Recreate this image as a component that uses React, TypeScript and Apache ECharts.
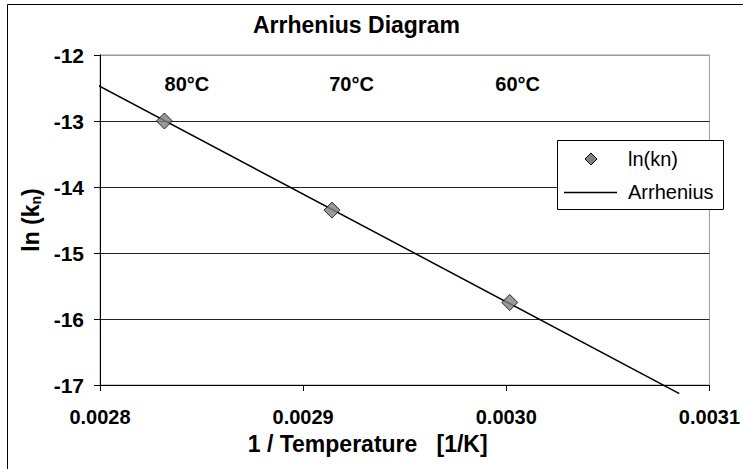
import React, { useEffect, useRef } from "react";
import * as echarts from "echarts";

// Measured rate constants: reciprocal temperature [1/K] and ln(k_n)
const invTemperature = [0.0028317, 0.0029142, 0.0030017];
const lnK = [-13.0, -14.35, -15.75];

// Arrhenius fit line end points
const fitInvT = [0.0027966, 0.0030852];
const fitLnK = [-12.42, -17.13];

// Temperature annotations above the points
const tempLabels = ["80°C", "70°C", "60°C"];
const tempLabelX = [0.0028428, 0.0029238, 0.0030056];
const tempLabelY = [-12.44, -12.44, -12.44];

// Legend entries
const legendNames = ["ln(kn)", "Arrhenius"];

// Axis ranges
const xRange = [0.0028, 0.0031];
const xStep = 0.0001;
const yRange = [-17, -12];
const yStep = 1;

const FONT = 'Arial, "Liberation Sans", sans-serif';

function legendGraphic() {
  const left = 557.5;
  const top = 140.5;
  const w = 166;
  const h = 69;
  const row1 = 159;
  const row2 = 192;
  const dx = 591;
  const r = 6;
  return [
    {
      type: "rect",
      shape: { x: left, y: top, width: w, height: h },
      style: { fill: "#fff", stroke: "#000", lineWidth: 1 },
      z: 50,
    },
    {
      type: "polygon",
      shape: { points: [[dx, row1 - r], [dx + r, row1], [dx, row1 + r], [dx - r, row1]] },
      style: { fill: "#808080", stroke: "#000", lineWidth: 1 },
      z: 51,
    },
    {
      type: "line",
      shape: { x1: 564, y1: row2 + 0.5, x2: 617, y2: row2 + 0.5 },
      style: { stroke: "#000", lineWidth: 1.5 },
      z: 51,
    },
    {
      type: "text",
      x: 628,
      y: row1,
      style: { text: legendNames[0], fontFamily: FONT, fontSize: 20, fill: "#000", verticalAlign: "middle", align: "left" },
      z: 51,
    },
    {
      type: "text",
      x: 628,
      y: row2,
      style: { text: legendNames[1], fontFamily: FONT, fontSize: 20, fill: "#000", verticalAlign: "middle", align: "left" },
      z: 51,
    },
  ];
}

export default function App() {
  const ref = useRef<HTMLDivElement>(null);

  useEffect(() => {
    if (!ref.current) return;
    const chart = echarts.init(ref.current, null, { renderer: "svg" });

    const option: any = {
      animation: false,
      backgroundColor: "#ffffff",
      textStyle: { fontFamily: FONT },
      title: {
        text: "Arrhenius Diagram",
        left: 253,
        top: 13,
        padding: 0,
        textStyle: { fontFamily: FONT, fontSize: 23, fontWeight: "bold", color: "#000" },
      },
      graphic: [
        {
          type: "rect",
          shape: { x: 7.5, y: 4.5, width: 760, height: 480 },
          style: { fill: "none", stroke: "#000", lineWidth: 1 },
          silent: true,
          z: 100,
        },
        ...legendGraphic(),
      ],
      grid: {
        left: 100,
        top: 55,
        right: 30,
        bottom: 84,
        show: true,
        borderColor: "#999",
        borderWidth: 1,
        backgroundColor: "transparent",
      },
      xAxis: {
        type: "value",
        min: xRange[0],
        max: xRange[1],
        interval: xStep,
        name: "1 / Temperature\u00a0\u00a0\u00a0[1/K]",
        nameLocation: "middle",
        nameGap: 47,
        nameTextStyle: {
          fontFamily: FONT,
          fontSize: 23,
          fontWeight: "bold",
          color: "#000",
          padding: [0, 74, 0, 0],
        },
        axisLine: { show: true, lineStyle: { color: "#000", width: 1 } },
        axisTick: { show: true, length: 6, lineStyle: { color: "#000" } },
        axisLabel: {
          margin: 22,
          fontFamily: FONT,
          fontSize: 20,
          fontWeight: "bold",
          color: "#000",
          formatter: (v: number) => v.toFixed(4),
        },
        splitLine: { show: false },
      },
      yAxis: {
        type: "value",
        min: yRange[0],
        max: yRange[1],
        interval: yStep,
        name: "ln (k{sub|n})",
        nameLocation: "middle",
        nameGap: 56,
        nameTextStyle: {
          fontFamily: FONT,
          fontSize: 23,
          fontWeight: "bold",
          color: "#000",
          rich: {
            sub: { fontFamily: FONT, fontSize: 14, fontWeight: "bold", color: "#000", verticalAlign: "bottom", padding: [8, 0, 0, 0] },
          },
        },
        axisLine: { show: true, lineStyle: { color: "#000", width: 1 } },
        axisTick: { show: true, length: 6, lineStyle: { color: "#000" } },
        axisLabel: {
          margin: 16,
          fontFamily: FONT,
          fontSize: 21,
          fontWeight: "bold",
          color: "#000",
        },
        splitLine: {
          show: true,
          lineStyle: { color: ["#000", "#222", "#222", "#222", "#222", "#999"], width: 1 },
        },
      },
      series: [
        {
          name: legendNames[1],
          type: "line",
          data: fitInvT.map((x, i) => [x, fitLnK[i]]),
          symbol: "none",
          clip: false,
          lineStyle: { color: "#000", width: 1.5 },
          itemStyle: { color: "#000" },
          z: 2,
        },
        {
          name: legendNames[0],
          type: "scatter",
          data: invTemperature.map((x, i) => [x, lnK[i]]),
          symbol: "diamond",
          symbolSize: 16,
          itemStyle: { color: "#808080", borderColor: "#000", borderWidth: 1 },
          z: 3,
        },
      ],
    };

    chart.setOption(option);

    // Temperature annotations placed at their data coordinates
    const tempTexts = tempLabels.map((t, i) => {
      const [px, py] = chart.convertToPixel({ gridIndex: 0 }, [tempLabelX[i], tempLabelY[i]]) as number[];
      return {
        type: "text",
        id: "temp" + i,
        x: px,
        y: py,
        style: {
          text: t,
          fontFamily: FONT,
          fontSize: 20,
          fontWeight: "bold",
          fill: "#000",
          align: "center",
          verticalAlign: "middle",
        },
        z: 40,
      };
    });
    chart.setOption({ graphic: tempTexts });

    return () => chart.dispose();
  }, []);

  return (
    <div
      ref={ref}
      style={{ position: "fixed", left: 0, top: 0, width: 743, height: 469, background: "#fff" }}
    />
  );
}
